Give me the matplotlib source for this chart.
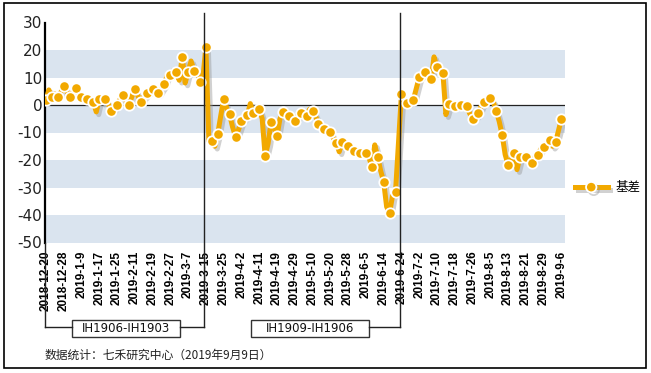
import matplotlib.pyplot as plt
import matplotlib.patheffects as pe
from matplotlib.lines import Line2D
from matplotlib.patches import Rectangle
import numpy as np
import pandas as pd

# trading days (exchange holidays removed)
holidays = ["2018-12-31", "2019-01-01", "2019-02-04", "2019-02-05", "2019-02-06",
            "2019-02-07", "2019-02-08", "2019-04-05", "2019-05-01", "2019-05-02",
            "2019-05-03", "2019-06-07"]
days = pd.bdate_range("2018-12-20", "2019-09-06")
days = days[~days.isin(pd.to_datetime(holidays))]
dates = [f"{d.year}-{d.month}-{d.day}" for d in days]

basis = [
    1.8, 5.5, 3.0, 4.0, 3.0, 4.5, 6.9, 5.0, 3.0, 4.5,
    6.2, 4.0, 3.0, 2.5, 2.2, 1.5, 1.0, -2.5, 2.1, 1.0,
    2.1, 0.5, -2.2, -1.0, 0.1, 2.0, 3.6, 1.5, 0.0, 3.0,
    5.8, 3.5, 1.2, 3.0, 4.3, 5.0, 5.9, 5.0, 4.3, 6.0,
    7.6, 11.0, 10.9, 12.5, 12.1, 9.0, 17.6, 8.0, 12.1, 16.0,
    12.5, 12.0, 8.5, 10.0, 21.2, -13.0, -13.1, -15.0, -10.5, -4.0,
    2.1, -1.0, -3.4, -8.0, -11.5, -9.0, -5.8, -4.5, -3.6, 0.5,
    -3.0, -2.0, -1.5, -5.0, -18.5, -14.0, -6.1, -8.0, -11.3, -5.0,
    -2.4, -2.0, -4.0, -5.0, -5.8, -4.0, -3.0, -4.0, -4.0, -1.5,
    -2.0, -4.0, -7.0, -8.0, -8.7, -9.0, -9.7, -12.0, -13.7, -17.0,
    -13.3, -14.0, -14.9, -16.0, -16.6, -17.5, -17.6, -17.5, -17.3, -19.0,
    -22.4, -14.5, -19.0, -24.0, -27.9, -37.0, -39.2, -33.0, -31.5, -14.0,
    4.0, 1.0, 0.6, 1.5, 1.8, 6.0, 10.1, 11.0, 12.1, 11.0,
    9.3, 17.5, 13.7, 14.0, 11.5, -3.5, 0.2, 0.0, -0.4, 0.0,
    0.0, 0.0, -0.4, -3.0, -5.1, -4.0, -3.0, 0.0, 1.2, 2.0,
    2.4, 1.0, -2.2, -6.0, -10.9, -18.0, -21.8, -20.0, -17.6, -23.5,
    -19.0, -18.0, -19.0, -20.0, -21.2, -19.0, -18.2, -16.0, -15.2, -14.0,
    -12.7, -15.0, -13.6, -9.3, -5.0,
]
switch_days = ["2019-3-15", "2019-6-24"]
spread_names = ["IH1906-IH1903", "IH1909-IH1906"]
series_name = "基差"
source = "数据统计：七禾研究中心（2019年9月9日）"

orange = "#f2a900"
W, H = 651, 373

fig = plt.figure(figsize=(W / 100, H / 100), dpi=100)
ax = fig.add_axes([45 / W, 1 - 242.5 / H, 520 / W, 220 / H])

x = np.arange(len(basis))
y = np.array(basis)

for lo in (10, -10, -30, -50):
    ax.axhspan(lo, lo + 10, color="#dae4ef", lw=0, zorder=0)
ax.axhline(0, color="#222222", lw=0.9, zorder=1)

shadow = [pe.SimpleLineShadow(offset=(1.8, -2.0), shadow_color="#999999", alpha=0.45), pe.Normal()]
ax.plot(x, y, color=orange, lw=3.6, solid_joinstyle="round", zorder=3, path_effects=shadow)
ax.plot(x[::2], y[::2], ls="none", marker="o", ms=7.5, mfc=orange, mec="white", mew=1.3, zorder=4)

ax.set_xlim(-0.3, 175.2)
ax.set_ylim(-50, 30)
ax.set_yticks(range(-50, 31, 10))
ax.set_yticklabels([str(v) for v in range(-50, 31, 10)], fontsize=11, color="#222222")
ax.set_xticks(x[::6])
ax.set_xticklabels(dates[::6], rotation=90, fontsize=8.5, fontweight="bold",
                   family="Liberation Sans", va="top")
ax.tick_params(axis="both", length=0)
ax.tick_params(axis="y", pad=2)
ax.tick_params(axis="x", pad=6)
for s in ("top", "right", "bottom"):
    ax.spines[s].set_visible(False)
ax.spines["left"].set_linewidth(1.6)
ax.spines["left"].set_color("black")

# contract switch lines and bracket annotation
def fx(px):
    return px / W

def fy(py):
    return 1 - py / H

ax_left = 45
line_kw = dict(color="#222222", lw=1.0, transform=fig.transFigure)
sep_px = []
for d in switch_days:
    xi = dates.index(d) - 0.5
    px = ax.transData.transform((xi, 0))[0]
    sep_px.append(px)
    fig.add_artist(Line2D([fx(px), fx(px)], [fy(12.7), fy(327)], **line_kw))

boxes = [(72, 180), (250.7, 369.3)]
fig.add_artist(Line2D([fx(ax_left), fx(ax_left)], [fy(242.5), fy(327)], **line_kw))
fig.add_artist(Line2D([fx(ax_left), fx(boxes[0][0])], [fy(327), fy(327)], **line_kw))
fig.add_artist(Line2D([fx(boxes[0][1]), fx(sep_px[0])], [fy(327), fy(327)], **line_kw))
fig.add_artist(Line2D([fx(boxes[1][1]), fx(sep_px[1])], [fy(327), fy(327)], **line_kw))
for (b0, b1), name in zip(boxes, spread_names):
    fig.add_artist(Rectangle((fx(b0), fy(336.7)), fx(b1 - b0), (336.7 - 320) / H,
                             transform=fig.transFigure, fill=False, ec="#333333", lw=1.0))
    fig.text(fx((b0 + b1) / 2), fy(328.3), name, ha="center", va="center",
             fontsize=8.5, color="#111111")

# legend
proxy = Line2D([], [], color=orange, lw=3.6, marker="o", ms=7.5, mfc=orange,
               mec="white", mew=1.3, path_effects=shadow)
fig.legend(handles=[proxy], labels=[series_name], loc="center left",
           bbox_to_anchor=(fx(575), fy(188)), bbox_transform=fig.transFigure,
           frameon=False, handlelength=2.6, handletextpad=0.6, borderpad=0,
           borderaxespad=0, prop=dict(family="Noto Sans CJK SC", size=9))

fig.text(fx(45), fy(355), source, ha="left", va="center", fontsize=8.5,
         family=["Noto Sans CJK SC", "DejaVu Sans"], color="#222222")

fig.add_artist(Rectangle((fx(3.5), fy(368.3)), fx(646 - 3.5), (368.3 - 3.3) / H,
                         transform=fig.transFigure, fill=False, ec="black", lw=1.2))

fig.savefig("out.png", dpi=100)
